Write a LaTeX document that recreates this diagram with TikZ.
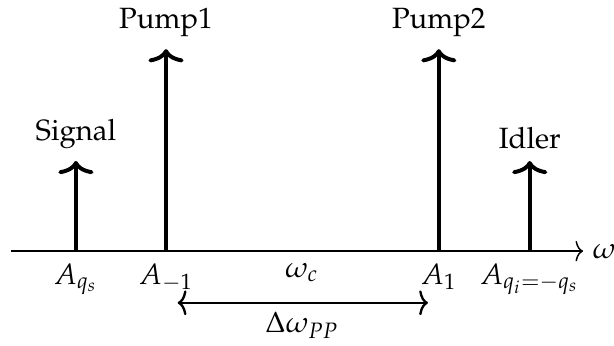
\documentclass[tikz,border=0pt]{standalone}
\usepackage[T1]{fontenc}
\usepackage{mathpazo}
\usetikzlibrary{arrows.meta,positioning}
\tikzset{
  freqaxis/.style={-{To[length=2.6pt,width=7pt]}, line width=0.5pt},
  line/.style={-{To[length=4.5pt,width=12pt]}, line width=1.35pt},
  spacing/.style={{To[length=3pt,width=8.5pt]}-{To[length=3pt,width=8.5pt]}, line width=0.8pt},
  lbl/.style={inner sep=3pt}
}

\begin{document}
\begin{tikzpicture}
  \useasboundingbox (-3.62,-1.13) rectangle (3.74,3.01);

  % frequency axis
  \coordinate (start) at (-3.49,0);
  \coordinate (end) at (3.37,0);
  \draw[freqaxis] (start) -- (end) node[right, lbl] (omega) {$\omega$};

  % spectral lines
  \coordinate (sig) at (-2.71,0);
  \coordinate (p1) at (-1.63,0);
  \coordinate (p2) at (1.64,0);
  \coordinate (idl) at (2.73,0);
  \coordinate (sigtop) at (-2.71,1.08);
  \coordinate (p1top) at (-1.63,2.42);
  \coordinate (p2top) at (1.64,2.42);
  \coordinate (idltop) at (2.73,1.08);
  \draw[line] (sig) -- (sigtop);
  \draw[line] (p1) -- (p1top);
  \draw[line] (p2) -- (p2top);
  \draw[line] (idl) -- (idltop);

  \node[above=1pt of sigtop, lbl] (siglbl) {Signal};
  \node[above=1pt of p1top, lbl] (p1lbl) {Pump1};
  \node[above=1pt of p2top, lbl] (p2lbl) {Pump2};
  \node[above=1pt of idltop, lbl] (idllbl) {Idler};

  % mode labels
  \node[below=1pt of sig, lbl] (asig) {$A_{q_s}$};
  \node[below=1pt of p1, lbl] (am1) {$A_{-1}$};
  \node[below=1pt of {(0,0)}, lbl] (wc) {$\omega_c$};
  \node[below=1pt of p2, lbl] (ap1) {$A_1$};
  \node[below=1pt of idl, lbl] (aidl) {$A_{q_i=-q_s}$};

  % pump spacing
  \coordinate (dl) at (-1.49,-0.62);
  \coordinate (dr) at (1.51,-0.62);
  \draw[spacing] (dl) -- (dr);
  \node[below=0pt of {(0,-0.62)}, lbl] (dpp) {$\Delta\omega_{PP}$};
\end{tikzpicture}
\end{document}
